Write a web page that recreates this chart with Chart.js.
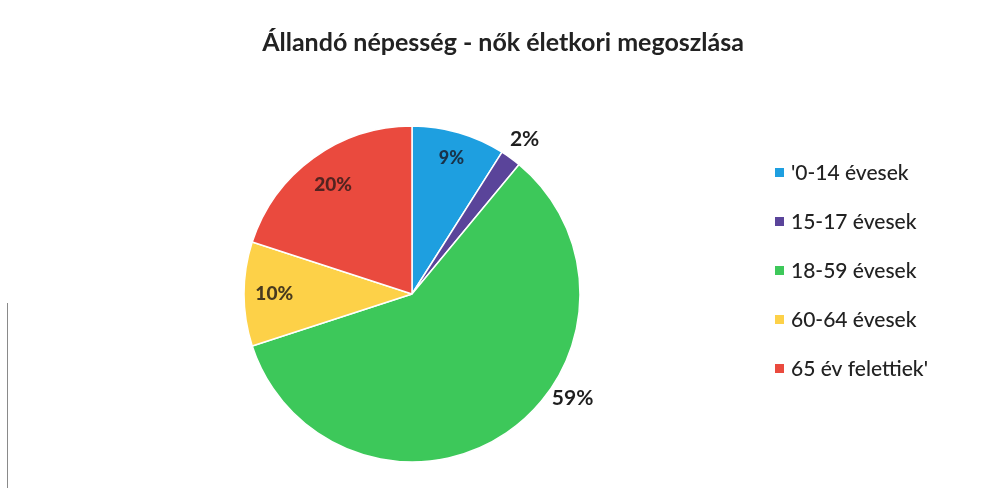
<!DOCTYPE html>
<html><head><meta charset="utf-8">
<script src="https://cdn.jsdelivr.net/npm/chart.js@4.4.0/dist/chart.umd.min.js"></script>
<style>
html,body{margin:0;padding:0;background:#fff;}
#wrap{position:relative;width:986px;height:488px;}
#edge{position:absolute;left:7px;top:303px;width:1px;height:185px;background:#8a8a8a;}
</style></head>
<body><div id="wrap"><canvas id="c" width="986" height="488"></canvas><div id="edge"></div></div>
<script>
const title = "Állandó népesség - nők életkori megoszlása";
const categories = ["'0-14 évesek", "15-17 évesek", "18-59 évesek", "60-64 évesek", "65 év felettiek'"];
const values = [9, 2, 59, 10, 20];
const valueLabels = ["9%", "2%", "59%", "10%", "20%"];
const colors = ["#1e9fe0", "#5a449a", "#3dc85a", "#fdd148", "#ea4a3e"];

// label placement style (radius factor, optional angle override in degrees from top, clockwise)
const labelStyle = [
  {r: 0.84, color: "rgba(25,30,45,0.85)", font: "900 18px Lato"},
  {r: 1.14, color: "#1e1e1e", font: "bold 21px Lato"},
  {r: 1.14, angle: 123, color: "#1e1e1e", font: "bold 21px Lato"},
  {r: 0.82, color: "rgba(40,32,25,0.85)", font: "900 19px Lato"},
  {r: 0.80, color: "rgba(45,25,25,0.8)", font: "900 19px Lato"}
];

const decor = {
  id: 'decor',
  afterDraw(chart) {
    const ctx = chart.ctx;
    ctx.save();
    // title
    ctx.fillStyle = "#222";
    ctx.font = "bold 25px Lato";
    ctx.textAlign = "center";
    ctx.textBaseline = "middle";
    ctx.fillText(title, 503, 43);
    // slice labels
    const meta = chart.getDatasetMeta(0);
    meta.data.forEach((arc, i) => {
      const st = labelStyle[i];
      let a;
      if (st.angle !== undefined) a = st.angle * Math.PI / 180 - Math.PI / 2;
      else a = (arc.startAngle + arc.endAngle) / 2;
      const rr = arc.outerRadius * st.r;
      const x = arc.x + Math.cos(a) * rr;
      const y = arc.y + Math.sin(a) * rr;
      ctx.font = st.font;
      ctx.fillStyle = st.color;
      ctx.fillText(valueLabels[i], x, y);
    });
    // legend
    ctx.textAlign = "left";
    ctx.font = "500 21px Lato";
    categories.forEach((c, i) => {
      const y = 172 + i * 49;
      ctx.fillStyle = colors[i];
      ctx.fillRect(775, y - 4, 9, 9);
      ctx.fillStyle = "#222";
      ctx.fillText(c, 791, y + 1);
    });
    ctx.restore();
  }
};

new Chart(document.getElementById('c'), {
  type: 'pie',
  data: {
    labels: categories,
    datasets: [{
      data: values,
      backgroundColor: colors,
      borderColor: "#ffffff",
      borderWidth: 1.5
    }]
  },
  options: {
    responsive: false,
    animation: false,
    radius: 168,
    layout: {padding: {left: 244, right: 406, top: 126, bottom: 26}},
    plugins: {legend: {display: false}, tooltip: {enabled: false}, title: {display: false}}
  },
  plugins: [decor]
});
</script>
</body></html>
